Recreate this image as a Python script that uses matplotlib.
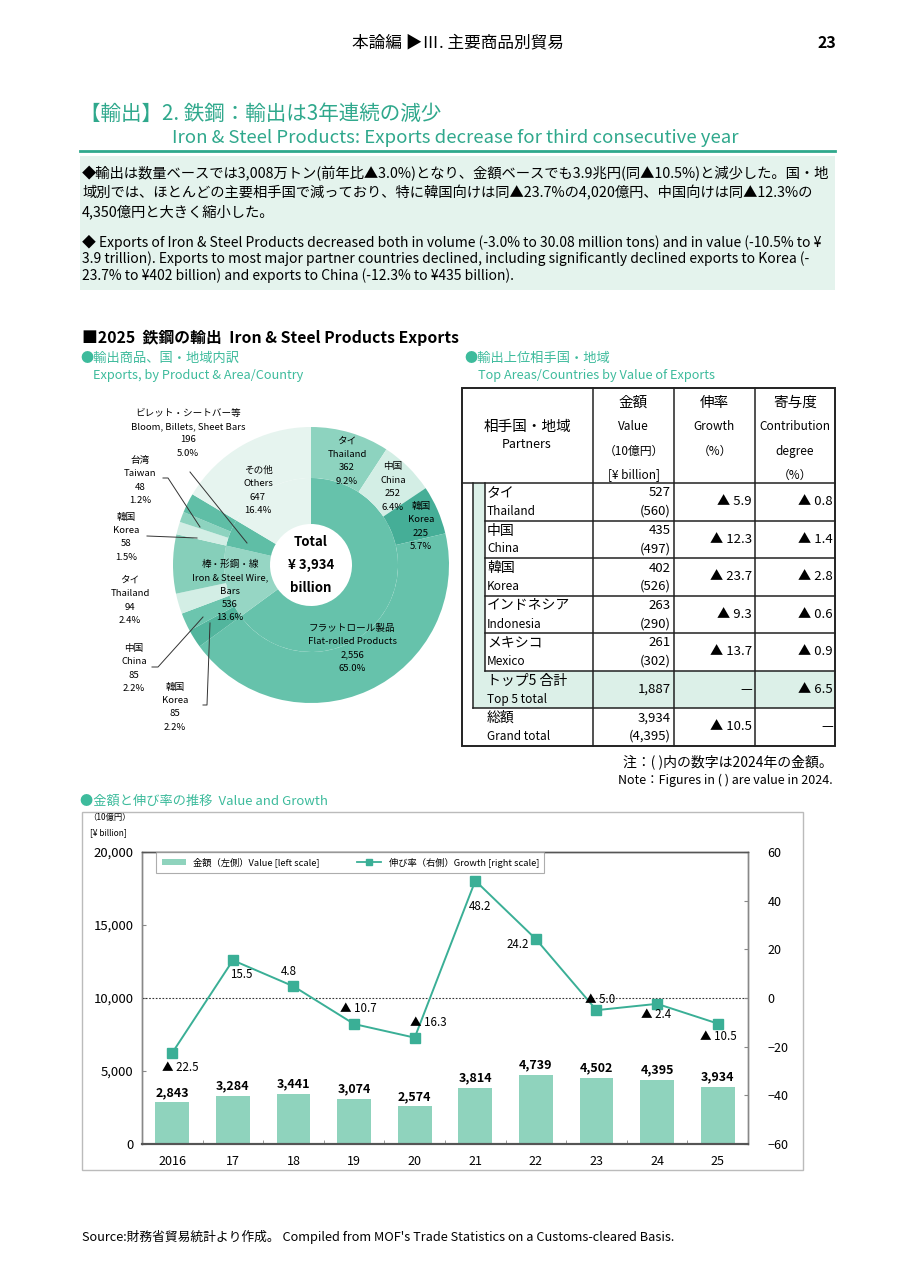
import matplotlib.pyplot as plt
from matplotlib.patches import Rectangle, Patch
from matplotlib.lines import Line2D

plt.rcParams['font.family'] = ['Noto Sans CJK JP', 'DejaVu Sans']

# ---- data ----
# 内訳 (inner ring: products)
products_jp = ['フラットロール製品', '棒・形鋼・線', 'ビレット・シートバー等', 'その他']
products_en = ['Flat-rolled Products', 'Iron & Steel Wire,\nBars', 'Bloom, Billets, Sheet Bars', 'Others']
product_values = [2556, 536, 196, 647]
product_share = [65.0, 13.6, 5.0, 16.4]

# 主要相手国 by product (outer ring)
flat_partners_jp = ['タイ', '中国', '韓国']
flat_partners_en = ['Thailand', 'China', 'Korea']
flat_partner_values = [362, 252, 225]
flat_partner_share = [9.2, 6.4, 5.7]

bar_partners_jp = ['韓国', '中国', 'タイ']
bar_partners_en = ['Korea', 'China', 'Thailand']
bar_partner_values = [85, 85, 94]
bar_partner_share = [2.2, 2.2, 2.4]

billet_partners_jp = ['韓国', '台湾']
billet_partners_en = ['Korea', 'Taiwan']
billet_partner_values = [58, 48]
billet_partner_share = [1.5, 1.2]

total_value = 3934

# 相手国 table
partners_jp = ['タイ', '中国', '韓国', 'インドネシア', 'メキシコ', 'トップ5 合計', '総額']
partners_en = ['Thailand', 'China', 'Korea', 'Indonesia', 'Mexico', 'Top 5 total', 'Grand total']
value_2025 = [527, 435, 402, 263, 261, 1887, 3934]
value_2024 = [560, 497, 526, 290, 302, None, 4395]
growth_pct = [-5.9, -12.3, -23.7, -9.3, -13.7, None, -10.5]
contrib_pct = [-0.8, -1.4, -2.8, -0.6, -0.9, -6.5, None]

# 金額と伸び率
years = ['2016', '17', '18', '19', '20', '21', '22', '23', '24', '25']
export_value = [2843, 3284, 3441, 3074, 2574, 3814, 4739, 4502, 4395, 3934]
growth = [-22.5, 15.5, 4.8, -10.7, -16.3, 48.2, 24.2, -5.0, -2.4, -10.5]

# ---- styles ----
TEAL = '#2fa88c'
SUB = '#3dbb9c'
BAR = '#8fd3bd'
LINE = '#3aaf96'
FILL = '#dcf0e8'


def tri(v):
    # ▲ = minus in Japanese stats
    return '▲ ' + f'{abs(v):.1f}' if v < 0 else f'{v:.1f}'


fig = plt.figure(figsize=(9.16, 12.8), dpi=100)
bg = fig.add_axes([0, 0, 1, 1])
bg.set_xlim(0, 916)
bg.set_ylim(1280, 0)
bg.axis('off')
bg.set_zorder(5)

# header
bg.text(458, 43, '本論編 ▶Ⅲ. 主要商品別貿易', ha='center', va='center', fontsize=12)
bg.text(836, 43, '23', ha='right', va='center', fontsize=11.5, fontweight='bold')

bg.text(80, 114, '【輸出】2. 鉄鋼：輸出は3年連続の減少', color=TEAL, fontsize=14.8, va='center')
bg.text(172, 138, 'Iron & Steel Products: Exports decrease for third consecutive year',
        color=TEAL, fontsize=13.4, va='center')
bg.plot([80, 835], [151, 151], color=TEAL, lw=2)

bg.add_patch(Rectangle((80, 156), 755, 134, fc='#e4f3ed', ec='none'))
jp_lines = ['◆輸出は数量ベースでは3,008万トン(前年比▲3.0%)となり、金額ベースでも3.9兆円(同▲10.5%)と減少した。国・地',
            '域別では、ほとんどの主要相手国で減っており、特に韓国向けは同▲23.7%の4,020億円、中国向けは同▲12.3%の',
            '4,350億円と大きく縮小した。']
for i, s in enumerate(jp_lines):
    bg.text(82, 174 + i * 19, s, va='center', fontsize=10.3)
en_lines = ['◆ Exports of Iron & Steel Products decreased both in volume (-3.0% to 30.08 million tons) and in value (-10.5% to ¥',
            '3.9 trillion). Exports to most major partner countries declined, including significantly declined exports to Korea (-',
            '23.7% to ¥402 billion) and exports to China (-12.3% to ¥435 billion).']
for i, s in enumerate(en_lines):
    bg.text(82, 242 + i * 17, s, va='center', fontsize=10)

bg.text(82, 338, '■2025  鉄鋼の輸出  Iron & Steel Products Exports', va='center',
        fontsize=11.4, fontweight='bold')
bg.text(80, 358, '●輸出商品、国・地域内訳', va='center', fontsize=9.5, color=SUB)
bg.text(93, 375, 'Exports, by Product & Area/Country', va='center', fontsize=9.2, color=SUB)
bg.text(464, 358, '●輸出上位相手国・地域', va='center', fontsize=9.5, color=SUB)
bg.text(478, 375, 'Top Areas/Countries by Value of Exports', va='center', fontsize=9.2, color=SUB)

# ---- donut ----
cx, cy = 311, 565
pax = fig.add_axes([(cx - 150) / 916, 1 - (cy + 150) / 1280, 300 / 916, 300 / 1280])
pax.set_zorder(1)

inner_colors = ['#66c2ab', '#96d6c4', '#5fbea6', '#e6f4ef']
pax.pie(product_values, radius=87, colors=inner_colors, startangle=90, counterclock=False,
        wedgeprops=dict(width=46, linewidth=0))

outer_values = (flat_partner_values + [product_values[0] - sum(flat_partner_values)]
                + bar_partner_values + [product_values[1] - sum(bar_partner_values)]
                + billet_partner_values + [product_values[2] - sum(billet_partner_values)]
                + [product_values[3]])
outer_colors = ['#8dd3bf', '#d3eee5', '#45ae97', '#66c2ab',
                '#52b59d', '#6cc5ae', '#d3eee5', '#86cfba',
                '#d3eee5', '#8dd3bf', '#5fbea6',
                '#e6f4ef']
pax.pie(outer_values, radius=138, colors=outer_colors, startangle=90, counterclock=False,
        wedgeprops=dict(width=51, linewidth=0))
pax.set_xlim(-150, 150)
pax.set_ylim(-150, 150)

for i, s in enumerate(['Total', f'¥ {total_value:,}', 'billion']):
    bg.text(cx, cy - 23 + i * 23, s, ha='center', va='center', fontsize=9.5, fontweight='bold')


def block(x, y, lines, fs=6.9):
    for k, s in enumerate(lines):
        bg.text(x, y + k * 13.5, s, ha='center', va='center', fontsize=fs)


# product labels
block(352, 628, [products_jp[0], products_en[0], f'{product_values[0]:,}', f'{product_share[0]:.1f}%'])
block(230, 564, [products_jp[1], 'Iron & Steel Wire,', 'Bars', f'{product_values[1]}', f'{product_share[1]:.1f}%'])
block(188, 413, [products_jp[2], products_en[2], f'{product_values[2]}', f'{product_share[2]:.1f}%'])
block(258, 470, [products_jp[3], products_en[3], f'{product_values[3]}', f'{product_share[3]:.1f}%'])

flat_pos = [(347, 441), (393, 467), (421, 506)]
for (x, y), jp, en, v, p in zip(flat_pos, flat_partners_jp, flat_partners_en, flat_partner_values, flat_partner_share):
    block(x, y, [jp, en, f'{v}', f'{p:.1f}%'])
bar_pos = [(175, 687), (134, 648), (130, 580)]
for (x, y), jp, en, v, p in zip(bar_pos, bar_partners_jp, bar_partners_en, bar_partner_values, bar_partner_share):
    block(x, y, [jp, en, f'{v}', f'{p:.1f}%'])
billet_pos = [(126, 517), (140, 460)]
for (x, y), jp, en, v, p in zip(billet_pos, billet_partners_jp, billet_partners_en, billet_partner_values, billet_partner_share):
    block(x, y, [jp, en, f'{v}', f'{p:.1f}%'])

# leader lines
lk = dict(color='#333333', lw=0.7)
bg.plot([190, 247], [472, 543], **lk)
bg.plot([163, 168, 200], [478, 478, 527], **lk)
bg.plot([147, 197], [536, 538], **lk)
bg.plot([152, 158, 203], [667, 667, 617], **lk)
bg.plot([203, 207, 210], [705, 705, 623], **lk)

# ---- table ----
cols = [462, 593, 674, 755, 835]
top, head_bot, row_h = 388, 483, 37.5
n = len(partners_jp)
bottom = head_bot + row_h * n
tl = dict(color='#222222', lw=1.1)

bg.add_patch(Rectangle((473, head_bot), 12, row_h * 5, fc=FILL, ec='none'))
bg.add_patch(Rectangle((473, head_bot + row_h * 5), cols[-1] - 473, row_h, fc=FILL, ec='none'))
bg.add_patch(Rectangle((cols[0], top), cols[-1] - cols[0], bottom - top, fill=False, ec='#222222', lw=1.4))
for x in cols[1:-1]:
    bg.plot([x, x], [top, bottom], **tl)
bg.plot([cols[0], cols[-1]], [head_bot, head_bot], **tl)
bg.plot([473, 473], [head_bot, head_bot + row_h * 6], **tl)
bg.plot([485, 485], [head_bot, head_bot + row_h * 5], **tl)
for i in range(1, 6):
    bg.plot([485, cols[-1]], [head_bot + row_h * i] * 2, **tl)
bg.plot([473, cols[-1]], [head_bot + row_h * 6] * 2, **tl)

bg.text(527, 427, '相手国・地域', ha='center', va='center', fontsize=10.5)
bg.text(527, 444, 'Partners', ha='center', va='center', fontsize=9)
head_cols = [['金額', 'Value', '（10億円）', '[¥ billion]'],
             ['伸率', 'Growth', '（%）'],
             ['寄与度', 'Contribution', 'degree', '（%）']]
for c, lines in enumerate(head_cols):
    xm = (cols[c + 1] + cols[c + 2]) / 2
    for k, s in enumerate(lines):
        bg.text(xm, 403 + k * 24, s, ha='center', va='center', fontsize=10.5 if k == 0 else 8.5)

for i in range(n):
    y0 = head_bot + row_h * i
    ym = y0 + row_h / 2
    bg.text(487, y0 + 10, partners_jp[i], va='center', fontsize=10)
    bg.text(487, y0 + 28.5, partners_en[i], va='center', fontsize=8.5)
    if value_2024[i] is None:
        bg.text(671, ym, f'{value_2025[i]:,}', ha='right', va='center', fontsize=9.5)
    else:
        bg.text(671, y0 + 10, f'{value_2025[i]:,}', ha='right', va='center', fontsize=9.5)
        bg.text(671, y0 + 28.5, f'({value_2024[i]:,})', ha='right', va='center', fontsize=9.5)
    g = '—' if growth_pct[i] is None else tri(growth_pct[i])
    bg.text(752, ym, g, ha='right', va='center', fontsize=9.5)
    c = '—' if contrib_pct[i] is None else tri(contrib_pct[i])
    bg.text(833, ym, c, ha='right', va='center', fontsize=9.5)

bg.text(833, 762, '注：( )内の数字は2024年の金額。', ha='right', va='center', fontsize=10)
bg.text(833, 780, 'Note：Figures in ( ) are value in 2024.', ha='right', va='center', fontsize=9)

# ---- value & growth chart ----
bg.text(80, 801, '●金額と伸び率の推移  Value and Growth', va='center', fontsize=9.5, color=SUB)
bg.add_patch(Rectangle((82, 812), 721, 358, fill=False, ec='#bbbbbb', lw=1))
bg.text(88, 817, '（10億円）', va='center', fontsize=6)
bg.text(90, 833, '[¥ billion]', va='center', fontsize=6)

bax = fig.add_axes([142 / 916, 1 - 1144 / 1280, 606 / 916, 292 / 1280])
x = list(range(len(years)))
bax.bar(x, export_value, width=0.56, color=BAR, zorder=2)
bax.set_xlim(-0.5, len(years) - 0.5)
bax.set_ylim(0, 20000)
bax.set_yticks(range(0, 20001, 5000))
bax.set_yticklabels([f'{v:,}' for v in range(0, 20001, 5000)])
bax.set_xticks(x)
bax.set_xticklabels(years)
bax.set_xticks([i + 0.5 for i in x[:-1]], minor=True)
bax.tick_params(axis='x', which='major', length=0, labelsize=9, pad=8)
bax.tick_params(axis='x', which='minor', length=3, direction='in', color='#888888')
bax.tick_params(axis='y', length=3, direction='in', color='#888888', labelsize=9.5, pad=6)
for v, xi in zip(export_value, x):
    bax.annotate(f'{v:,}', (xi, v), xytext=(0, 10), textcoords='offset pixels',
                 ha='center', va='center', fontsize=9, fontweight='bold')

rax = bax.twinx()
rax.set_ylim(-60, 60)
rax.set_yticks(range(-60, 61, 20))
rax.tick_params(axis='y', length=3, direction='in', color='#888888', labelsize=9, pad=14)
rax.axhline(0, color='#333333', ls=(0, (1.5, 1.5)), lw=0.8, zorder=1)
rax.plot(x, growth, color=LINE, lw=1.4, marker='s', ms=7.5, mfc=LINE, mec=LINE, zorder=3)

label_offsets = [(8, -15), (8, -14), (-5, 15), (4, 16), (14, 15),
                 (5, -26), (-18, -5), (4, 11), (-1, -11), (1, -13)]
for xi, g, off in zip(x, growth, label_offsets):
    rax.annotate(tri(g), (xi, g), xytext=off, textcoords='offset pixels',
                 ha='center', va='center', fontsize=8.3)

for a in (bax, rax):
    for side in ('left', 'right', 'top'):
        a.spines[side].set_color('#888888')
        a.spines[side].set_linewidth(1)
    a.spines['bottom'].set_color('#555555')
    a.spines['bottom'].set_linewidth(1.5)
bax.spines['top'].set_color('#555555')
rax.spines['top'].set_color('#555555')

handles = [Patch(fc=BAR, ec='none'),
           Line2D([0], [0], color=LINE, lw=1.3, marker='s', ms=4, mfc=LINE, mec=LINE)]
leg = rax.legend(handles, ['金額（左側）Value [left scale]', '伸び率（右側）Growth [right scale]'],
                 loc='upper left', bbox_to_anchor=(0.023, 1.0), ncol=2, fontsize=6.7,
                 frameon=True, fancybox=False, edgecolor='#999999', borderaxespad=0,
                 handlelength=2.6, handleheight=0.6, columnspacing=4, borderpad=0.6)
leg.get_frame().set_linewidth(0.8)

bg.text(82, 1237, "Source:財務省貿易統計より作成。 Compiled from MOF's Trade Statistics on a Customs-cleared Basis.",
        va='center', fontsize=9.2)

fig.savefig('out.png', dpi=100)
